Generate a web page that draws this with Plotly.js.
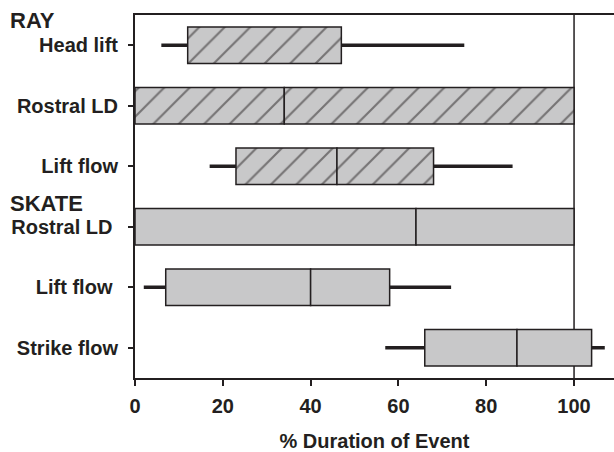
<!DOCTYPE html>
<html>
<head>
<meta charset="utf-8">
<script src="https://cdn.plot.ly/plotly-3.0.1.min.js"></script>
<style>html,body{margin:0;padding:0;background:#fff;}#chart{width:614px;height:452px;}</style>
</head>
<body>
<div id="chart"></div>
<script>
// Data (percent of event duration)
const labels   = ["Head lift", "Rostral LD", "Lift flow", "Rostral LD\u00a0", "Lift flow\u00a0", "Strike flow"];
const groups   = ["RAY", "RAY", "RAY", "SKATE", "SKATE", "SKATE"];
const whiskLo  = [6, null, 17, null, 2, 57];
const q1       = [12, 0, 23, 0, 7, 66];
const median   = [null, 34, 46, 64, 40, 87];
const q3       = [47, 100, 68, 100, 58, 104];
const whiskHi  = [75, null, 86, null, 72, 107];
const xTicks   = [0, 20, 40, 60, 80, 100];
const groupTitles = ["RAY", "SKATE"];

const pos = labels.map((_, i) => i);
const ink = '#231f20';
const fill = '#c8c8c9';
const patt = groups.map(g => g === 'RAY' ? '/' : '');

const leftBase = q1.slice();
const leftLen = q1.map((v, i) => (median[i] === null ? q3[i] : median[i]) - v);
const rightBase = median.map(m => m === null ? 0 : m);
const rightLen = median.map((m, i) => m === null ? null : q3[i] - m);

const barCommon = {
  type: 'bar', orientation: 'h', y: pos, width: 0.6,
  hoverinfo: 'skip', showlegend: false,
};
const markerFor = () => ({
  color: fill,
  line: {color: ink, width: 1.5},
  pattern: {shape: patt, fgcolor: ink, bgcolor: fill, size: 18, solidity: 0.12, fillmode: 'overlay'}
});

const wx = [], wy = [];
for (let i = 0; i < labels.length; i++) {
  if (whiskLo[i] !== null) { wx.push(whiskLo[i], q1[i], null); wy.push(pos[i], pos[i], null); }
  if (whiskHi[i] !== null) { wx.push(q3[i], whiskHi[i], null); wy.push(pos[i], pos[i], null); }
}

const traces = [
  Object.assign({}, barCommon, {base: leftBase, x: leftLen, marker: markerFor()}),
  Object.assign({}, barCommon, {base: rightBase, x: rightLen, marker: markerFor()}),
  {type: 'scatter', mode: 'lines', x: wx, y: wy, line: {color: ink, width: 3.5},
   hoverinfo: 'skip', showlegend: false, connectgaps: false}
];

const fam = 'Liberation Sans, Arial, sans-serif';
const font = {family: fam, size: 20, color: ink};

const layout = {
  width: 614, height: 452,
  margin: {l: 135, r: 0, t: 15, b: 74},
  paper_bgcolor: '#fff', plot_bgcolor: '#fff',
  barmode: 'overlay',
  font: font,
  xaxis: {
    range: [0, 109.1], tickmode: 'array', tickvals: xTicks, ticktext: xTicks.map(v => '<b>' + v + '</b>'),
    showgrid: false, zeroline: false,
    showline: true, linecolor: ink, linewidth: 2, mirror: true,
    ticks: 'outside', ticklen: 6, tickwidth: 2, tickcolor: ink,
    ticklabelstandoff: 3,
    tickfont: {family: fam, size: 20, color: ink, weight: 700},
    title: {text: '<b>% Duration of Event</b>', font: {family: fam, size: 20, color: ink}, standoff: 20}
  },
  yaxis: {
    range: [5.5, -0.5], tickmode: 'array', tickvals: pos, ticktext: labels.map(t => '<b>' + t + '</b>'),
    showgrid: false, zeroline: false,
    showline: true, linecolor: ink, linewidth: 2,
    ticks: 'outside', ticklen: 5, tickwidth: 2, tickcolor: ink,
    ticklabelstandoff: 6,
    tickfont: {family: fam, size: 20, color: ink}
  },
  shapes: [
    {type: 'line', xref: 'x', yref: 'paper', x0: 100, x1: 100, y0: 0, y1: 1,
     line: {color: ink, width: 1.5}, layer: 'below'}
  ],
  annotations: [
    {text: '<b>' + groupTitles[0] + '</b>', x: 8, y: 21},
    {text: '<b>' + groupTitles[1] + '</b>', x: 8, y: 203}
  ]
};
const plotW = 614 - 135, plotH = 452 - 15 - 74;
layout.annotations.forEach(a => {
  Object.assign(a, {xref: 'paper', yref: 'paper', xanchor: 'left', yanchor: 'middle', showarrow: false,
    font: {family: fam, size: 22, color: ink}});
  a.x = (a.x - 135) / plotW;
  a.y = 1 - (a.y - 15) / plotH;
});

Plotly.newPlot('chart', traces, layout, {displayModeBar: false, staticPlot: true});
</script>
</body>
</html>
